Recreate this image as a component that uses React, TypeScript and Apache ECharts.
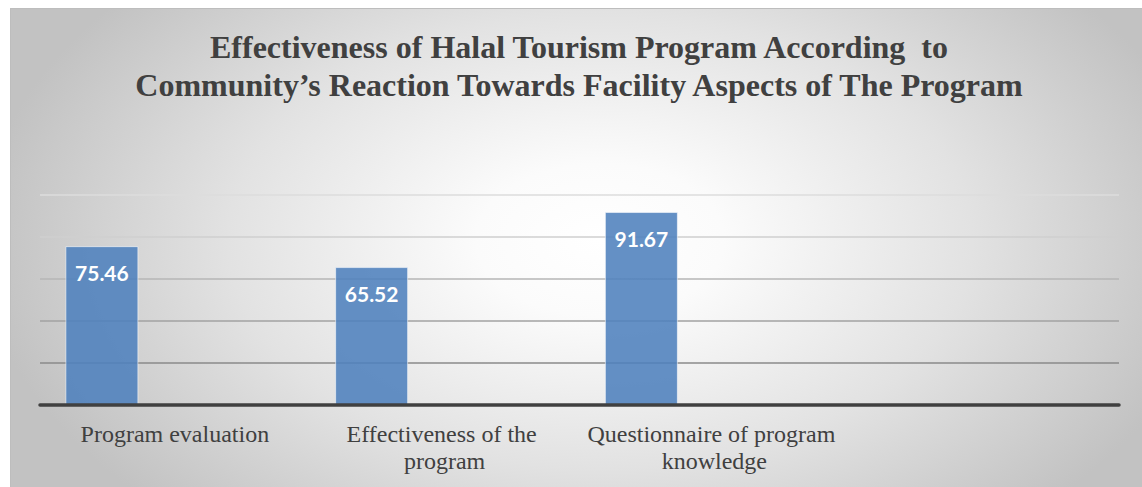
import React, { useEffect, useRef } from "react";
import * as echarts from "echarts";

const titleLines = [
  "Effectiveness of Halal Tourism Program According  to",
  "Community\u2019s Reaction Towards Facility Aspects of The Program",
];
const categories = [
  "Program evaluation",
  "Effectiveness of the program",
  "Questionnaire of program knowledge",
  "",
];
const series1Values: (number | null)[] = [75.46, 65.52, 91.67, null];
const series2Values: (number | null)[] = [];
const series3Values: (number | null)[] = [];
const yMin = 0;
const yMax = 100;
const yInterval = 20;

export default function App() {
  const ref = useRef<HTMLDivElement>(null);

  useEffect(() => {
    if (!ref.current) return;
    const chart = echarts.init(ref.current, undefined, { renderer: "svg" });

    const cx = 600;
    const cy = 240;
    const rx = 620;
    const k = 380 / 620;

    const barStyle = {
      color: "rgba(79,129,189,0.88)",
      borderColor: "rgba(255,255,255,0.55)",
      borderWidth: 1,
    };

    chart.setOption({
      animation: false,
      graphic: [
        {
          type: "rect",
          z: -10,
          silent: true,
          x: cx,
          y: cy,
          scaleY: k,
          shape: {
            x: 10 - cx,
            y: (8 - cy) / k,
            width: 1132,
            height: 479 / k,
          },
          style: {
            fill: new echarts.graphic.RadialGradient(
              0,
              0,
              rx,
              [
                { offset: 0, color: "#ffffff" },
                { offset: 0.2, color: "#fbfbfb" },
                { offset: 0.6, color: "#e2e2e2" },
                { offset: 1, color: "#c2c2c2" },
              ],
              true
            ),
          },
        },
        {
          type: "rect",
          z: -9,
          silent: true,
          shape: { x: 10.5, y: 8.5, width: 1132, height: 479 },
          style: { fill: "none", stroke: "#bdbdbd", lineWidth: 1 },
        },
      ],
      title: {
        text: titleLines.join("\n"),
        left: 579,
        top: 28,
        textAlign: "center",
        padding: 0,
        textStyle: {
          fontFamily: "Liberation Serif",
          fontWeight: "bold",
          fontSize: 32,
          lineHeight: 38,
          color: "#404040",
        },
      },
      grid: {
        left: 40,
        right: 23,
        top: 194.5,
        bottom: 82,
        containLabel: false,
      },
      xAxis: {
        type: "category",
        data: categories,
        axisLine: { show: true, lineStyle: { color: "#404040", width: 3.5 } },
        axisTick: { show: false },
        axisLabel: {
          interval: 0,
          fontFamily: "Liberation Serif",
          fontSize: 24,
          lineHeight: 27,
          color: "#404040",
          margin: 15,
          width: 262,
          overflow: "break",
        },
        z: 3,
      },
      yAxis: {
        type: "value",
        min: yMin,
        max: yMax,
        interval: yInterval,
        axisLabel: { show: false },
        axisLine: { show: false },
        axisTick: { show: false },
        splitLine: {
          show: true,
          lineStyle: {
            width: 1.5,
            color: ["#6a6a6a", "#8a8a8a", "#a2a2a2", "#b6b6b6", "#cfcfcf", "#dcdcdc"],
          },
        },
      },
      series: [
        {
          name: "Series 1",
          type: "bar",
          data: series1Values,
          barWidth: 73,
          barGap: "0%",
          itemStyle: barStyle,
          label: {
            show: true,
            position: "insideTop",
            distance: 16,
            color: "#ffffff",
            fontFamily: "Lato",
            fontWeight: "bold",
            fontSize: 21,
          },
        },
        {
          name: "Series 2",
          type: "bar",
          data: series2Values,
          barWidth: 73,
          barGap: "0%",
          itemStyle: barStyle,
        },
        {
          name: "Series 3",
          type: "bar",
          data: series3Values,
          barWidth: 73,
          barGap: "0%",
          itemStyle: barStyle,
        },
      ],
    });

    return () => {
      chart.dispose();
    };
  }, []);

  return (
    <div
      ref={ref}
      style={{ position: "absolute", left: 0, top: 0, width: 1142, height: 487 }}
    />
  );
}
